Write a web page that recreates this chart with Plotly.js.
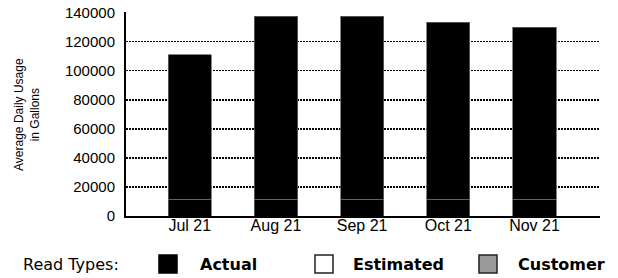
<!DOCTYPE html>
<html>
<head>
<meta charset="utf-8">
<script src="https://cdn.plot.ly/plotly-3.0.1.min.js"></script>
<style>html,body{margin:0;padding:0;background:#fff;}#chart{width:618px;height:278px;}</style>
</head>
<body>
<div id="chart"></div>
<script>
// Data
const months = ["Jul 21", "Aug 21", "Sep 21", "Oct 21", "Nov 21"];
const totalUsage = [111000, 137500, 137500, 133500, 130000];
const baseSegment = [11500, 11500, 11500, 11500, 11500];
const upperSegment = totalUsage.map((v, i) => v - baseSegment[i]);
const yTicks = [0, 20000, 40000, 60000, 80000, 100000, 120000, 140000];
const legendTitle = "Read Types:";
const legendNames = ["Actual", "Estimated", "Customer"];
const legendFills = ["#000", "#fff", "#9a9a9a"];

const traces = [
  {type: "bar", x: months, y: baseSegment, marker: {color: "#000", line: {color: "#666", width: 0.8}},
   showlegend: false, hoverinfo: "skip"},
  {type: "bar", x: months, y: upperSegment, marker: {color: "#000", line: {color: "#666", width: 0.8}},
   showlegend: false, hoverinfo: "skip"}
];

// Legend key layout (paper coordinates of the plot area: left 126px, width 474px, bottom 216px, height 204px)
const keySwatchX = [0.0696, 0.3987, 0.7447];
const keySwatchW = 0.038;
const keyTextX = [0.1519, 0.4747, 0.8228];
const keyY0 = -0.2794, keyY1 = -0.1912, keyMid = -0.2353;
const legendFont = "DejaVu Sans, Verdana, sans-serif";

const shapes = legendNames.map((n, i) => ({
  type: "rect", xref: "paper", yref: "paper",
  x0: keySwatchX[i], x1: keySwatchX[i] + keySwatchW, y0: keyY0, y1: keyY1,
  fillcolor: legendFills[i], line: {color: i === 0 ? "#000" : "#222", width: 1.5}
}));

const annotations = [{
  xref: "paper", yref: "paper", x: -0.209, y: 0.5, xanchor: "center", yanchor: "middle",
  textangle: -90, showarrow: false,
  text: "Average Daily Usage<br>in Gallons",
  font: {size: 12, family: "Liberation Sans, Arial, sans-serif", color: "#000"}
}, {
  xref: "paper", yref: "paper", x: -0.2215, y: keyMid, xanchor: "left", yanchor: "middle",
  showarrow: false, text: legendTitle,
  font: {size: 16, family: legendFont, color: "#000"}
}].concat(legendNames.map((n, i) => ({
  xref: "paper", yref: "paper", x: keyTextX[i], y: keyMid, xanchor: "left", yanchor: "middle",
  showarrow: false, text: "<b>" + n + "</b>",
  font: {size: 16, family: legendFont, color: "#000"}
})));

const layout = {
  width: 618, height: 278,
  margin: {l: 126, r: 18, t: 12, b: 62},
  paper_bgcolor: "#fff", plot_bgcolor: "#fff",
  barmode: "stack", bargap: 0.5,
  showlegend: false,
  font: {family: "Liberation Sans, Arial, sans-serif", color: "#000"},
  xaxis: {
    type: "category", range: [-0.74, 4.76],
    showgrid: false, showline: true, linecolor: "#000", linewidth: 2,
    ticks: "", tickfont: {size: 16, family: "Liberation Sans, Arial, sans-serif"},
    ticklabelstandoff: -6, fixedrange: true, automargin: false
  },
  yaxis: {
    range: [0, 140400], tickvals: yTicks, ticktext: yTicks.map(String),
    showgrid: true, gridcolor: "#000", gridwidth: 1.5, griddash: "1.5px,1.5px",
    zeroline: false, showline: true, linecolor: "#000", linewidth: 2,
    ticks: "", ticklabelstandoff: 6,
    tickfont: {size: 15, family: "Liberation Sans, Arial, sans-serif"},
    automargin: false
  },
  shapes: shapes,
  annotations: annotations
};

Plotly.newPlot("chart", traces, layout, {staticPlot: true, displayModeBar: false});
</script>
</body>
</html>
